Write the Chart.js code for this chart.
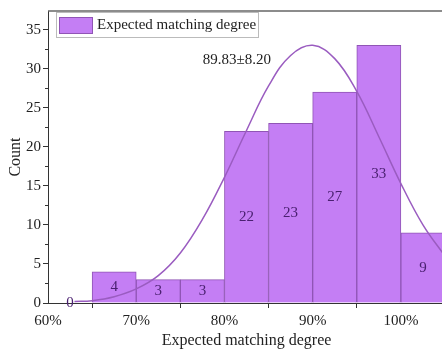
<!DOCTYPE html>
<html>
<head>
<meta charset="utf-8">
<script src="https://cdn.jsdelivr.net/npm/chart.js@4"></script>
<style>
  body { margin: 0; overflow: hidden; background: #fff; }
  #wrap { width: 442px; height: 350px; overflow: hidden; }
</style>
</head>
<body>
<div id="wrap"><canvas id="hist" width="450" height="350"></canvas></div>
<script>
// bins (centres, %), counts
var binCenters = [62.5, 67.5, 72.5, 77.5, 82.5, 87.5, 92.5, 97.5, 102.5];
var counts = [0, 4, 3, 3, 22, 23, 27, 33, 9];

// normal curve
var curveX = [63, 65, 67.5, 70, 72.5, 75, 77.5, 80, 82.5, 85, 87.5, 90, 92.5, 95, 97.5, 100, 102.5, 105];
var curveY = [0.2, 0.3, 0.8, 1.8, 3.5, 6.4, 10.7, 16.1, 22.1, 27.8, 31.7, 33.0, 31.3, 27.1, 21.3, 15.3, 10.0, 6.0];

var xTicks = [60, 70, 80, 90, 100];
var yTicks = [0, 5, 10, 15, 20, 25, 30, 35];
var statsText = "89.83\u00b18.20";

var fillColor = "#c47ef4";
var edgeColor = "#9055b5";
var axisColor = "#333";
var serif = "'Liberation Serif', 'DejaVu Serif', serif";

var barPoints = binCenters.map(function (c, i) { return { x: c, y: counts[i] }; });
var curvePoints = curveX.map(function (x, i) { return { x: x, y: curveY[i] }; });

var extras = {
  id: "extras",
  afterDatasetsDraw: function (chart) {
    var ctx = chart.ctx;
    var area = chart.chartArea;
    var xs = chart.scales.x, ys = chart.scales.y;

    // counts inside bars
    ctx.save();
    ctx.font = "15px " + serif;
    ctx.fillStyle = "#4a2070";
    ctx.textAlign = "center";
    ctx.textBaseline = "middle";
    chart.getDatasetMeta(0).data.forEach(function (bar, i) {
      ctx.fillText(String(counts[i]), bar.x, (bar.y + bar.base) / 2);
    });

    // mean ± sd
    ctx.fillStyle = "#222";
    ctx.fillText(statsText, xs.getPixelForValue(81.4), ys.getPixelForValue(31.1));

    // top frame line
    ctx.strokeStyle = "#666";
    ctx.lineWidth = 1.5;
    ctx.beginPath();
    ctx.moveTo(area.left, area.top);
    ctx.lineTo(area.right, area.top);
    ctx.stroke();

    // minor y ticks
    ctx.strokeStyle = axisColor;
    ctx.lineWidth = 1;
    for (var v = 2.5; v < ys.max; v += 5) {
      var py = Math.round(ys.getPixelForValue(v)) + 0.5;
      ctx.beginPath();
      ctx.moveTo(area.left - 3, py);
      ctx.lineTo(area.left, py);
      ctx.stroke();
    }

    // legend box
    var lx = 56, ly = 12, lw = 202, lh = 25;
    ctx.fillStyle = "#fff";
    ctx.fillRect(lx, ly, lw, lh);
    ctx.strokeStyle = "#bbb";
    ctx.strokeRect(lx + 0.5, ly + 0.5, lw, lh);
    ctx.fillStyle = fillColor;
    ctx.fillRect(59, 17, 33, 16);
    ctx.strokeStyle = edgeColor;
    ctx.strokeRect(59.5, 17.5, 33, 16);
    ctx.fillStyle = "#222";
    ctx.textAlign = "left";
    ctx.fillText(chart.data.datasets[0].label, 97, 25.5);
    ctx.restore();
  }
};

new Chart(document.getElementById("hist"), {
  type: "bar",
  data: {
    datasets: [
      {
        type: "bar",
        label: "Expected matching degree",
        data: barPoints,
        backgroundColor: fillColor,
        borderColor: edgeColor,
        borderWidth: 1,
        barPercentage: 1,
        categoryPercentage: 1,
        order: 2
      },
      {
        type: "line",
        label: "Normal",
        data: curvePoints,
        borderColor: "#9a5cc0",
        borderWidth: 1.5,
        pointRadius: 0,
        tension: 0.4,
        fill: false,
        order: 1
      }
    ]
  },
  options: {
    responsive: false,
    animation: false,
    layout: { padding: { top: 7, right: 5, left: 0, bottom: 0 } },
    plugins: {
      legend: { display: false },
      tooltip: { enabled: false }
    },
    scales: {
      x: {
        type: "linear",
        min: 60,
        max: 105,
        offset: false,
        afterBuildTicks: function (s) { s.ticks = xTicks.map(function (v) { return { value: v }; }); },
        afterFit: function (s) { s.height = 47; },
        grid: { drawOnChartArea: false, drawTicks: true, tickLength: 5, color: axisColor },
        border: { display: true, color: axisColor, width: 1 },
        ticks: {
          padding: 4,
          color: "#222",
          font: { family: serif, size: 15 },
          callback: function (v) { return v + "%"; }
        },
        title: {
          display: true,
          text: "Expected matching degree",
          color: "#222",
          font: { family: serif, size: 16 },
          padding: { top: 0, bottom: 0 }
        }
      },
      y: {
        min: 0,
        max: 37.4,
        afterBuildTicks: function (s) { s.ticks = yTicks.map(function (v) { return { value: v }; }); },
        afterFit: function (s) { s.width = 48; },
        grid: { drawOnChartArea: false, drawTicks: true, tickLength: 5, color: axisColor },
        border: { display: true, color: axisColor, width: 1 },
        ticks: {
          padding: 2,
          color: "#222",
          font: { family: serif, size: 15 }
        },
        title: {
          display: true,
          text: "Count",
          color: "#222",
          font: { family: serif, size: 16 },
          padding: { top: 6, bottom: 0 }
        }
      }
    }
  },
  plugins: [extras]
});
</script>
</body>
</html>
